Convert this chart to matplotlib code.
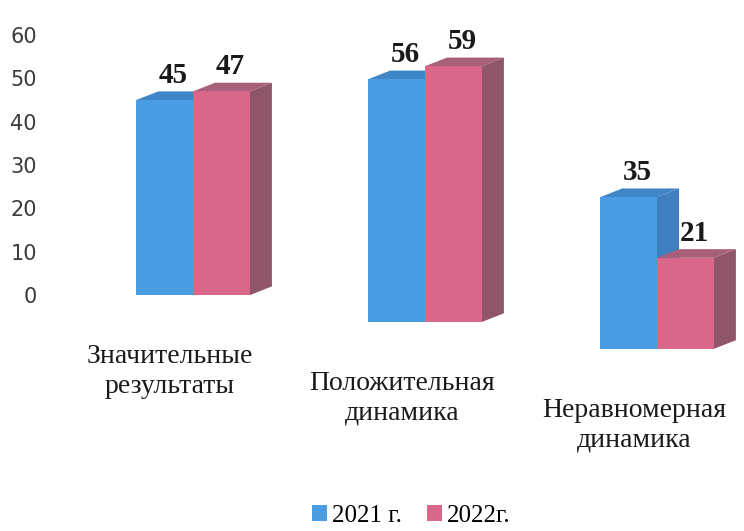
import numpy as np
import matplotlib.pyplot as plt
from matplotlib.patches import Polygon, Rectangle

# data
categories = ["Значительные\nрезультаты", "Положительная\nдинамика", "Неравномерная\nдинамика"]
series_names = ["2021 г.", "2022г."]
values_2021 = [45, 56, 35]
values_2022 = [47, 59, 21]
y_ticks = [0, 10, 20, 30, 40, 50, 60]

# look of the pseudo 3d bars
FRONT = ["#4b9de3", "#d9678a"]
TOP = ["#3f86c9", "#a8607a"]
SIDE = ["#3f7fbf", "#8f5569"]
BAR_W = 0.245
DEPTH_X = 0.095
DEPTH_Y = 2.0
TILT = 6.2  # each group sits a bit lower (perspective of the original)

plt.rcParams['font.family'] = ['DejaVu Sans']
SERIF = ['Liberation Serif', 'DejaVu Serif']

fig = plt.figure(figsize=(7.44, 5.31), dpi=100)
ax = fig.add_axes([55 / 744, 0.330, 689 / 744, 0.653])
ax.set_xlim(-0.595, 2.375)
ax.set_ylim(-14, 66)


def draw_bar(x0, base, h, k):
    top = base + h
    ax.add_patch(Polygon([(x0 + BAR_W, base), (x0 + BAR_W + DEPTH_X, base + DEPTH_Y),
                          (x0 + BAR_W + DEPTH_X, top + DEPTH_Y), (x0 + BAR_W, top)],
                         closed=True, facecolor=SIDE[k], edgecolor='none', zorder=2))
    ax.add_patch(Polygon([(x0, top), (x0 + DEPTH_X, top + DEPTH_Y),
                          (x0 + BAR_W + DEPTH_X, top + DEPTH_Y), (x0 + BAR_W, top)],
                         closed=True, facecolor=TOP[k], edgecolor='none', zorder=2))
    ax.add_patch(Rectangle((x0, base), BAR_W, h, facecolor=FRONT[k],
                           edgecolor='none', zorder=3))


for i, cat in enumerate(categories):
    base = -TILT * i
    for k, vals in enumerate([values_2021, values_2022]):
        x0 = i - BAR_W + k * BAR_W
        draw_bar(x0, base, vals[i], k)
        ax.text(x0 + BAR_W / 2 + DEPTH_X * 0.4, base + vals[i] + DEPTH_Y + 0.6, str(vals[i]),
                ha='center', va='bottom', fontsize=21, fontweight='bold',
                family=SERIF, color='#1a1a1a', zorder=5)
    ax.text(i - 0.1, base - 11.3, cat, ha='center', va='top', fontsize=20,
            family=SERIF, color='#1a1a1a', linespacing=1.25, clip_on=False)

ax.set_yticks(y_ticks)
ax.set_xticks([])
ax.tick_params(axis='y', length=0, labelsize=15, labelcolor='#3a3a3a', pad=13)
for s in ax.spines.values():
    s.set_visible(False)

handles = [Rectangle((0, 0), 1, 1, facecolor=c) for c in FRONT]
fig.legend(handles, series_names, loc='lower center', bbox_to_anchor=(0.553, -0.035),
           ncol=2, frameon=False, prop={'family': SERIF, 'size': 18},
           handlelength=0.6, handleheight=0.6, handletextpad=0.2, columnspacing=1.0)

fig.savefig('out.png', dpi=100)
